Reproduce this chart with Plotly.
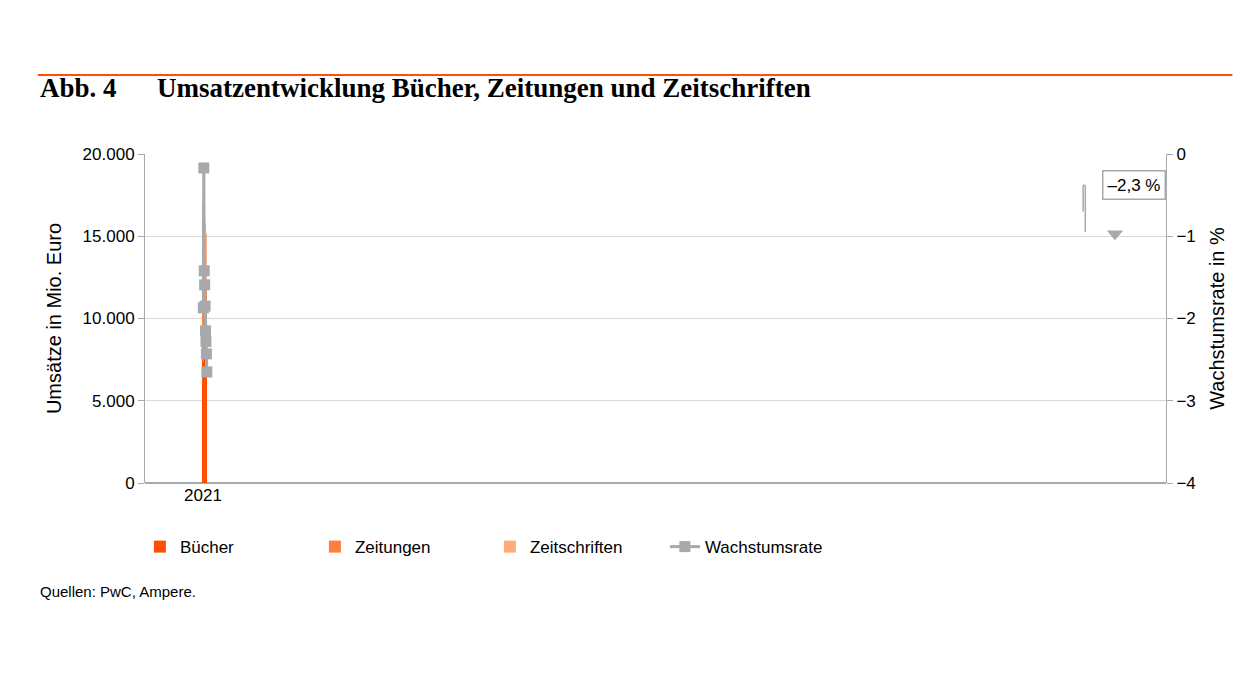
"""
Umsatzentwicklung Bücher, Zeitungen und Zeitschriften mit Wachstumsrate.
"""

import pandas as pd
import plotly.graph_objects as go


# Farben der Grafik.
ORANGE_1 = "#FE5000"
ORANGE_2 = "#FD803C"
ORANGE_3 = "#FDAB78"
GRAU = "#A7A9AC"


def umsatz():
    """
    Erstellt ein gestapeltes Säulendiagramm mit der Wachstumsrate
    auf der zweiten Achse.
    """

    df = pd.DataFrame(
        {
            "jahr": [str(j) for j in range(2021, 2031)],
            "buecher": [7480, 7360, 7600, 7720, 7780, 7840, 7840, 7780, 7720, 7720],
            "zeitungen_kum": [14350, 13980, 14040, 13920, 13740, 13500, 13250, 13000, 12700, 12340],
            "gesamt": [16960, 16660, 16660, 16350, 16110, 15800, 15440, 15140, 14770, 14350],
            "rate": [None, -1.87, -0.17, -1.42, -1.59, -1.85, -2.15, -2.28, -2.43, -2.65],
        }
    )

    df["zeitungen"] = df["zeitungen_kum"] - df["buecher"]
    df["zeitschriften"] = df["gesamt"] - df["zeitungen_kum"]

    fig = go.Figure()

    for spalte, name, farbe in [
        ("buecher", "Bücher", ORANGE_1),
        ("zeitungen", "Zeitungen", ORANGE_2),
        ("zeitschriften", "Zeitschriften", ORANGE_3),
    ]:
        fig.add_trace(
            go.Bar(x=df["jahr"], y=df[spalte], name=name, marker_color=farbe, marker_line_width=0)
        )

    fig.add_trace(
        go.Scatter(
            x=df["jahr"],
            y=df["rate"],
            name="Wachstumsrate",
            yaxis="y2",
            mode="lines+markers",
            line_color=GRAU,
            line_width=3,
            marker_symbol="square",
            marker_size=11,
        )
    )

    fig.update_xaxes(type="category", showline=False, ticks="", tickfont_size=17)

    fig.update_yaxes(
        title="Umsätze in Mio. Euro",
        range=[0, 20000],
        dtick=5000,
        tickformat=",",
        gridcolor="#D9D9D9",
        showline=True,
        linecolor=GRAU,
        zeroline=True,
        zerolinecolor=GRAU,
        ticks="outside",
        tickcolor=GRAU,
        ticklen=6,
        tickfont_size=17,
    )

    # Linien der Klammer über den Jahren 2025 bis 2030.
    klammer = dict(color=GRAU, width=1.5)

    fig.update_layout(
        separators=",.",
        barmode="stack",
        bargap=0.55,
        width=1260,
        height=680,
        font_family="Liberation Sans",
        font_color="#000000",
        font_size=17,
        plot_bgcolor="#FFFFFF",
        paper_bgcolor="#FFFFFF",
        margin_t=146,
        margin_b=205,
        margin_l=137,
        margin_r=102,
        yaxis2=dict(
            title="Wachstumsrate in %",
            overlaying="y",
            side="right",
            range=[-4, 0],
            dtick=1,
            showgrid=False,
            showline=True,
            linecolor=GRAU,
            ticks="outside",
            tickcolor=GRAU,
            ticklen=6,
            tickfont_size=17,
            zeroline=False,
        ),
        showlegend=True,
        legend_orientation="h",
        legend_x=-0.005,
        legend_y=-0.14,
        legend_xanchor="left",
        legend_yanchor="top",
        legend_font_size=17,
        legend_traceorder="normal",
        legend_entrywidth=130,
        shapes=[
            dict(type="line", xref="paper", yref="paper", x0=-0.105, x1=1.065, y0=1.24, y1=1.24,
                 line=dict(color=ORANGE_1, width=2)),
            dict(type="line", xref="x", yref="y2", x0="2025", x1="2025", y0=-0.70, y1=-0.38, line=klammer),
            dict(type="line", xref="x", yref="y2", x0="2025", x1="2030", y0=-0.38, y1=-0.38, line=klammer),
            dict(type="line", xref="x", yref="y2", x0="2030", x1="2030", y0=-0.38, y1=-0.95, line=klammer),
            dict(type="path", xref="paper", yref="y2",
                 path="M 0.942 -0.93 L 0.958 -0.93 L 0.95 -1.05 Z",
                 fillcolor=GRAU, line_width=0),
        ],
        annotations=[
            dict(
                x=-0.105,
                y=1.2,
                xref="paper",
                yref="paper",
                xanchor="left",
                yanchor="middle",
                text="<b>Abb. 4      Umsatzentwicklung Bücher, Zeitungen und Zeitschriften</b>",
                font=dict(family="Liberation Serif", size=27, color="#000000"),
                showarrow=False,
            ),
            dict(
                x="2027",
                y=-0.38,
                xref="x",
                yref="y2",
                text="\u20132,3 %",
                showarrow=False,
                bgcolor="#FFFFFF",
                bordercolor=GRAU,
                borderwidth=1.5,
                borderpad=4,
                font_size=17,
                xshift=50,
            ),
            dict(
                x=-0.105,
                y=-0.33,
                xref="paper",
                yref="paper",
                xanchor="left",
                yanchor="middle",
                text="Quellen: PwC, Ampere.",
                font_size=15,
                showarrow=False,
            ),
        ],
    )

    fig.write_html("out.html")


if __name__ == "__main__":
    umsatz()
